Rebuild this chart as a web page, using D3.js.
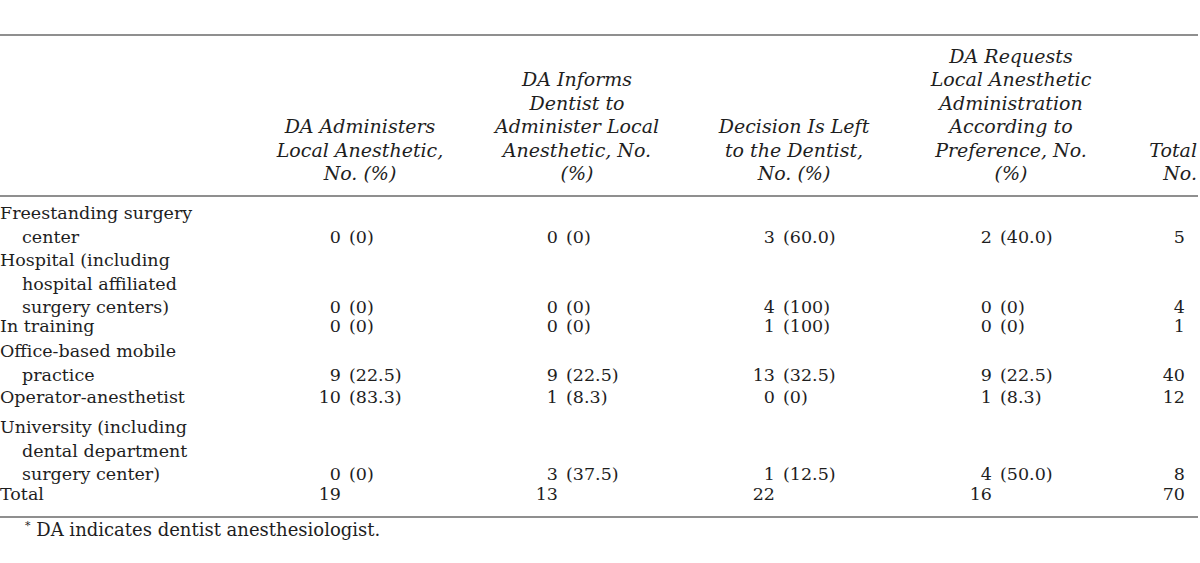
<!DOCTYPE html>
<html>
<head>
<meta charset="utf-8">
<script src="https://cdn.jsdelivr.net/npm/d3@7"></script>
<style>
  html, body { margin: 0; padding: 0; background: #ffffff; }
  svg { display: block; }
</style>
</head>
<body>
<svg id="chart" width="1200" height="563"></svg>
<script>
// ---------------- DATA ----------------
const columnHeaders = [
  ["DA Administers", "Local Anesthetic,", "No. (%)"],
  ["DA Informs", "Dentist to", "Administer Local", "Anesthetic, No.", "(%)"],
  ["Decision Is Left", "to the Dentist,", "No. (%)"],
  ["DA Requests", "Local Anesthetic", "Administration", "According to", "Preference, No.", "(%)"]
];
const totalHeader = ["Total", "No."];

const categories = [
  ["Freestanding surgery", "center"],
  ["Hospital (including", "hospital affiliated", "surgery centers)"],
  ["In training"],
  ["Office-based mobile", "practice"],
  ["Operator-anesthetist"],
  ["University (including", "dental department", "surgery center)"],
  ["Total"]
];

const daAdministersN   = [0, 0, 0, 9, 10, 0, 19];
const daAdministersPct = ["0", "0", "0", "22.5", "83.3", "0", null];
const daInformsN       = [0, 0, 0, 9, 1, 3, 13];
const daInformsPct     = ["0", "0", "0", "22.5", "8.3", "37.5", null];
const decisionLeftN    = [3, 4, 1, 13, 0, 1, 22];
const decisionLeftPct  = ["60.0", "100", "100", "32.5", "0", "12.5", null];
const daRequestsN      = [2, 0, 0, 9, 1, 4, 16];
const daRequestsPct    = ["40.0", "0", "0", "22.5", "8.3", "50.0", null];
const totalN           = [5, 4, 1, 40, 12, 8, 70];

const footnote = "DA indicates dentist anesthesiologist.";

// ---------------- LAYOUT ----------------
const LINE = 23.5;                                  // line height
const rowFirstBaseline = [219, 266, 332, 357, 403, 433, 500];
const BODY_FONT = "'DejaVu Serif', 'Liberation Serif', serif";
const TEXT = "#1e1e1e";
const RULE = "#6a6a6a";
const FS = 17.5;
const HFS = 19;

const svg = d3.select("#chart");

const series = [
  { n: daAdministersN, p: daAdministersPct },
  { n: daInformsN,     p: daInformsPct },
  { n: decisionLeftN,  p: decisionLeftPct },
  { n: daRequestsN,    p: daRequestsPct }
];

// column anchor (position of the opening parenthesis)
const colX = d3.scalePoint().domain(d3.range(series.length)).range([349, 1000]);
const headerOffset = 11;
const totalX = 1185;
const totalHeaderX = 1197;

// rules
const rules = [35, 196, 517];
svg.selectAll("line.rule").data(rules).join("line")
  .attr("class", "rule")
  .attr("x1", 0).attr("x2", 1198)
  .attr("y1", d => d).attr("y2", d => d)
  .attr("stroke", RULE).attr("stroke-width", 1.5);

// headers (bottom aligned)
const headerBottom = 180;
const hdr = svg.append("g").attr("font-family", BODY_FONT).attr("font-style", "italic")
  .attr("font-size", HFS).attr("fill", TEXT);

columnHeaders.forEach((lines, ci) => {
  hdr.selectAll(null).data(lines).join("text")
    .attr("x", colX(ci) + headerOffset)
    .attr("y", (d, i) => headerBottom - (lines.length - 1 - i) * LINE)
    .attr("text-anchor", "middle")
    .text(d => d);
});
hdr.selectAll(null).data(totalHeader).join("text")
  .attr("x", totalHeaderX)
  .attr("y", (d, i) => headerBottom - (totalHeader.length - 1 - i) * LINE)
  .attr("text-anchor", "end")
  .text(d => d);

// body
const body = svg.append("g").attr("font-family", BODY_FONT).attr("font-size", FS).attr("fill", TEXT);

categories.forEach((lines, ri) => {
  const y0 = rowFirstBaseline[ri];
  body.selectAll(null).data(lines).join("text")
    .attr("x", (d, i) => i === 0 ? 0 : 22)
    .attr("y", (d, i) => y0 + i * LINE)
    .text(d => d);

  const yv = y0 + (lines.length - 1) * LINE;   // values sit on the last label line
  series.forEach((s, ci) => {
    const x = colX(ci);
    body.append("text")
      .attr("x", x - 8).attr("y", yv).attr("text-anchor", "end")
      .text(s.n[ri]);
    if (s.p[ri] !== null) {
      body.append("text")
        .attr("x", x).attr("y", yv).attr("text-anchor", "start")
        .text("(" + s.p[ri] + ")");
    }
  });
  body.append("text")
    .attr("x", totalX).attr("y", yv).attr("text-anchor", "end")
    .text(totalN[ri]);
});

// footnote
const fn = svg.append("text").attr("font-family", BODY_FONT).attr("font-size", 18).attr("fill", TEXT)
  .attr("x", 25).attr("y", 536);
fn.append("tspan").attr("font-size", 11).attr("dy", -7).text("*");
fn.append("tspan").attr("dy", 7).text(" " + footnote);
</script>
</body>
</html>
